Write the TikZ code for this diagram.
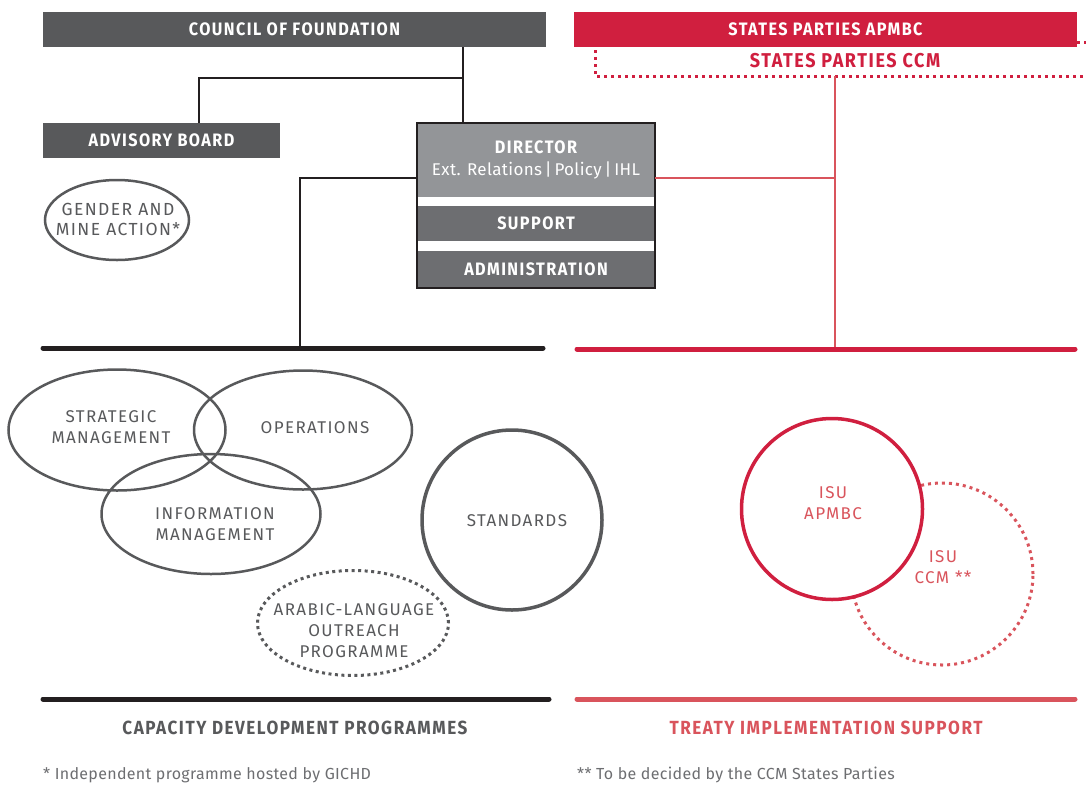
\documentclass[tikz,border=0pt]{standalone}
\usepackage{fontspec}
\setmainfont{Fira Sans}[FakeStretch=0.9, LetterSpace=8]
\newfontfamily\capsfont{Fira Sans}[LetterSpace=8]
\newfontfamily\plainfont{Fira Sans}[LetterSpace=2]
\usetikzlibrary{shapes.geometric}
\definecolor{cfgray}{HTML}{58595B}
\definecolor{dirgray}{HTML}{939598}
\definecolor{midgray}{HTML}{6D6E71}
\definecolor{apred}{HTML}{D01F3F}
\definecolor{lred}{HTML}{D9545C}
\definecolor{inkblack}{HTML}{231F20}
\begin{document}
\begin{tikzpicture}[x=1pt,y=-1pt,
  bar/.style={fill=cfgray, text=white, font=\bfseries\fontsize{18}{21}\selectfont, minimum height=35, inner sep=0},
  band/.style={text=white, font=\bfseries\fontsize{18}{21}\selectfont, minimum width=236, inner sep=0, align=center},
  link/.style={draw=inkblack, line width=2.5},
  rlink/.style={draw=lred, line width=2},
  rule/.style={line width=5, line cap=round},
  ring/.style={ellipse, draw=cfgray, line width=2.5, inner sep=0},
  dots/.style={line width=3, dash pattern=on 3 off 4},
  txt/.style={text=cfgray, font=\capsfont\fontsize{17}{21}\selectfont, align=center},
  rtxt/.style={text=lred, font=\capsfont\fontsize{17}{21}\selectfont, align=center},
  title/.style={font=\bfseries\fontsize{19}{21}\selectfont},
  note/.style={text=midgray, font=\plainfont\fontsize{16}{18}\selectfont, anchor=west, inner sep=0}]
\useasboundingbox (0,0) rectangle (1086,785);

\draw[dots, draw=apred] (1077,42) -- (1086,42);
\draw[dots, draw=apred] (595,50) -- (595,76) -- (1086,76);
\node[bar, minimum width=503] (cof) at (294.5,29.5) {COUNCIL OF FOUNDATION};
\node[bar, fill=apred, minimum width=503] (apmbc) at (825.5,29.5) {STATES PARTIES APMBC};
\node[title, text=apred, font=\bfseries\fontsize{20}{21}\selectfont] (ccm) at (845,61) {STATES PARTIES CCM};
\node[bar, minimum width=237] (adv) at (161.5,140.5) {ADVISORY BOARD};

\node[band, fill=dirgray, minimum height=74] (dir) at (536,160) {DIRECTOR\\[1pt]{\plainfont\mdseries\fontsize{17}{21}\selectfont Ext. Relations\,|\,Policy\,|\,IHL}};
\node[band, fill=midgray, minimum height=35] (sup) at (536,223.5) {SUPPORT};
\node[band, fill=midgray, minimum height=37] (adm) at (536,269.5) {ADMINISTRATION};
\node[draw=inkblack, line width=2, minimum width=238, minimum height=165] (dirbox) at (536,205.5) {};

\coordinate (cofdrop) at (463,47);
\coordinate (advjoin) at (463,78);
\coordinate (advtop) at (199,123);
\coordinate (dirW) at (417,178);
\coordinate (dirE) at (655,178);
\coordinate (cdpjoin) at (300,348);
\coordinate (ccmdrop) at (835,76);
\coordinate (tisjoin) at (835,348);
\draw[link] (cofdrop) -- (cofdrop |- dirbox.north);
\draw[link] (advjoin) -| (advtop);
\draw[link] (dirW) -| (cdpjoin);
\draw[rlink] (dirE) -- (dirE -| ccmdrop);
\draw[rlink] (ccmdrop) -- (tisjoin);

\coordinate (cdpL) at (43,348);
\coordinate (cdpR) at (543,348);
\coordinate (tisL) at (577,349);
\coordinate (tisR) at (1075,349);
\draw[rule, draw=inkblack] (cdpL) -- (cdpR);
\draw[rule, draw=apred] (tisL) -- (tisR);

\node[ring, minimum width=144, minimum height=80] (gma) at (117,220) {};
\node[txt, font=\capsfont\fontsize{17.5}{20}\selectfont] at (118,219) {GENDER AND\\MINE ACTION*};

\node[ring, minimum width=217, minimum height=121] (strat) at (117,430) {};
\node[ring, minimum width=218, minimum height=119] (ops) at (303,430) {};
\node[ring, minimum width=219, minimum height=120] (info) at (211,514) {};
\node[txt] at (111,427) {STRATEGIC\\MANAGEMENT};
\node[txt] at (315,428) {OPERATIONS};
\node[txt] at (215,524) {INFORMATION\\MANAGEMENT};
\node[ring, circle, line width=3.5, minimum size=180] (std) at (512,520) {};
\node[txt] at (517,521) {STANDARDS};
\node[ring, dots, dash pattern=on 3 off 3.5, minimum width=191, minimum height=105] (arab) at (353,623) {};
\node[txt] at (354,631) {ARABIC-LANGUAGE\\OUTREACH\\PROGRAMME};

\node[circle, draw=lred, dots, minimum size=182, inner sep=0] (isuccm) at (942,574) {};
\node[circle, draw=apred, fill=white, line width=3.5, minimum size=181, inner sep=0] (isuap) at (832,509) {};
\node[rtxt] at (833,503) {ISU\\APMBC};
\node[rtxt] at (943,567) {ISU\\CCM **};

\coordinate (cdpL2) at (43,699);
\coordinate (cdpR2) at (549,699);
\coordinate (tisL2) at (577,699);
\coordinate (tisR2) at (1075,699);
\draw[rule, draw=inkblack] (cdpL2) -- (cdpR2);
\draw[rule, draw=lred] (tisL2) -- (tisR2);
\node[title, text=cfgray] (cdp) at (295,728) {CAPACITY DEVELOPMENT PROGRAMMES};
\node[title, text=lred] (tis) at (826,728) {TREATY IMPLEMENTATION SUPPORT};
\node[note] (fn1) at (43,775) {* Independent programme hosted by GICHD};
\node[note] (fn2) at (577,775) {** To be decided by the CCM States Parties};

\end{tikzpicture}
\end{document}
